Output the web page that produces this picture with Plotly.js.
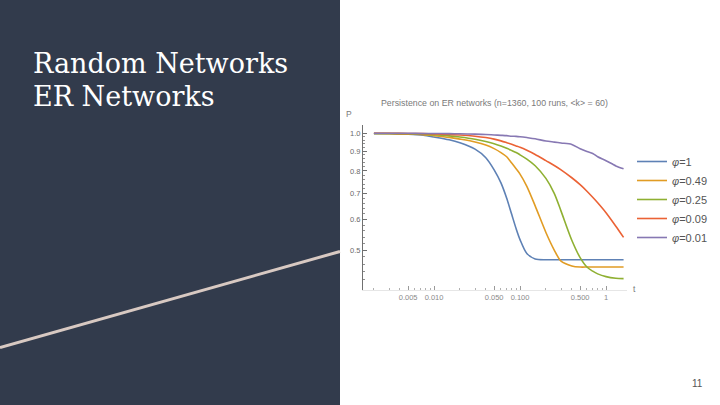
<!DOCTYPE html>
<html>
<head>
<meta charset="utf-8">
<script src="https://cdn.plot.ly/plotly-3.0.1.min.js"></script>
<style>
  html, body { margin: 0; padding: 0; background: #ffffff; }
  #chart { width: 720px; height: 405px; }
</style>
</head>
<body>
<div id="chart"></div>
<script>
// ---- data ----
const slideTitle1 = "Random Networks";
const slideTitle2 = "ER Networks";
const chartTitle = "Persistence on ER networks (n=1360, 100 runs, &lt;k&gt; = 60)";
const pageNumber = "11";

const t = [0.002, 0.003, 0.005, 0.0075, 0.01, 0.015, 0.02, 0.03, 0.04, 0.05, 0.06, 0.07, 0.08, 0.09,
           0.1, 0.12, 0.15, 0.2, 0.25, 0.3, 0.4, 0.5, 0.6, 0.7, 0.8, 1.0, 1.3, 1.6];

const phiLabels = ["1", "0.49", "0.25", "0.09", "0.01"];

const pPhi1    = [0.998, 0.997, 0.994, 0.988, 0.978, 0.962, 0.945, 0.91, 0.865, 0.805, 0.745, 0.68, 0.618, 0.568,
                  0.532, 0.49, 0.474, 0.472, 0.472, 0.472, 0.472, 0.472, 0.472, 0.472, 0.472, 0.472, 0.472, 0.472];
const pPhi049  = [0.999, 0.998, 0.996, 0.992, 0.986, 0.976, 0.966, 0.95, 0.933, 0.913, 0.892, 0.87, 0.838, 0.81,
                  0.785, 0.73, 0.65, 0.555, 0.50, 0.468, 0.455, 0.452, 0.452, 0.452, 0.452, 0.452, 0.452, 0.452];
const pPhi025  = [0.999, 0.999, 0.997, 0.995, 0.991, 0.985, 0.978, 0.965, 0.952, 0.94, 0.927, 0.915, 0.903, 0.892,
                  0.88, 0.858, 0.825, 0.765, 0.70, 0.63, 0.53, 0.478, 0.452, 0.441, 0.434, 0.427, 0.423, 0.422];
const pPhi009  = [1.0, 1.0, 0.999, 0.998, 0.996, 0.993, 0.99, 0.983, 0.975, 0.966, 0.956, 0.946, 0.937, 0.928,
                  0.92, 0.904, 0.882, 0.85, 0.826, 0.805, 0.768, 0.737, 0.709, 0.684, 0.662, 0.624, 0.576, 0.539];
const pPhi001  = [1.0, 1.0, 1.0, 0.999, 0.999, 0.998, 0.997, 0.995, 0.993, 0.99, 0.988, 0.986, 0.983, 0.982,
                  0.98, 0.975, 0.968, 0.955, 0.949, 0.944, 0.936, 0.912, 0.897, 0.887, 0.87, 0.85, 0.824, 0.81];

const xTickVals = [0.005, 0.01, 0.05, 0.1, 0.5, 1];
const xTickText = ["0.005", "0.010", "0.050", "0.100", "0.500", "1"];
const xMinorVals = [0.002, 0.003, 0.004, 0.006, 0.007, 0.008, 0.009, 0.02, 0.03, 0.04, 0.06, 0.07, 0.08, 0.09,
                    0.2, 0.3, 0.4, 0.6, 0.7, 0.8, 0.9];
const yTickVals = [0.5, 0.6, 0.7, 0.8, 0.9, 1.0];
const yTickText = ["0.5", "0.6", "0.7", "0.8", "0.9", "1.0"];
const yMinorVals = [0.42, 0.44, 0.46, 0.48, 0.52, 0.54, 0.56, 0.58, 0.62, 0.64, 0.66, 0.68,
                    0.72, 0.74, 0.76, 0.78, 0.82, 0.84, 0.86, 0.88, 0.92, 0.94, 0.96, 0.98];

const series = [pPhi1, pPhi049, pPhi025, pPhi009, pPhi001];
const colors = ["#5E81B5", "#E19C24", "#8FB032", "#EB6235", "#8778B3"];

// ---- figure ----
const W = 720, H = 405;
const px = v => v / W;
const py = v => (H - v) / H;

const traces = series.map((s, i) => ({
  x: t, y: s, type: "scatter", mode: "lines",
  name: "<i>φ</i>=" + phiLabels[i],
  line: { color: colors[i], width: 1.6, shape: "spline", smoothing: 0.8 },
  hoverinfo: "skip"
}));

const axisFont = { family: "Liberation Sans, Arial, sans-serif", size: 7.5, color: "#8a8a8a" };

const layout = {
  width: W, height: H,
  margin: { l: 0, r: 0, t: 0, b: 0, pad: 0 },
  paper_bgcolor: "#ffffff",
  plot_bgcolor: "rgba(0,0,0,0)",
  showlegend: true,
  legend: {
    x: px(632), y: py(147), xanchor: "left", yanchor: "top",
    font: { family: "Liberation Sans, Arial, sans-serif", size: 11, color: "#555555" },
    bgcolor: "rgba(0,0,0,0)", borderwidth: 0, itemwidth: 30
  },
  xaxis: {
    type: "log", domain: [px(363), px(627)], range: [-2.826, 0.244],
    showgrid: false, zeroline: false,
    showline: true, linecolor: "#e6e6e6", linewidth: 1,
    tickmode: "array", tickvals: xTickVals, ticktext: xTickText,
    ticks: "inside", ticklen: 4, tickcolor: "#9a9a9a", tickwidth: 1,
    minor: { tickmode: "array", tickvals: xMinorVals, ticks: "inside", ticklen: 2, tickcolor: "#b0b0b0", showgrid: false },
    tickfont: axisFont, fixedrange: true
  },
  yaxis: {
    type: "log", domain: [py(290), py(125)], range: [-0.4041, 0.0214],
    showgrid: false, zeroline: false,
    showline: true, linecolor: "#707070", linewidth: 1,
    tickmode: "array", tickvals: yTickVals, ticktext: yTickText,
    ticks: "inside", ticklen: 4, tickcolor: "#707070", tickwidth: 1,
    minor: { tickmode: "array", tickvals: yMinorVals, ticks: "inside", ticklen: 2, tickcolor: "#909090", showgrid: false },
    tickfont: { family: "Liberation Sans, Arial, sans-serif", size: 7.5, color: "#6a6a6a" },
    fixedrange: true
  },
  shapes: [
    { type: "rect", xref: "paper", yref: "paper", x0: 0, x1: px(340), y0: 0, y1: 1,
      fillcolor: "#323b4c", line: { width: 0 }, layer: "below" },
    { type: "line", xref: "paper", yref: "paper", x0: 0, y0: py(347.5), x1: px(340), y1: py(251.5),
      line: { color: "#d8c9c2", width: 3 }, layer: "above" }
  ],
  annotations: [
    { text: slideTitle1, xref: "paper", yref: "paper", x: px(31), y: py(63), xanchor: "left", yanchor: "middle",
      showarrow: false, font: { family: "DejaVu Serif, serif", size: 27, color: "#ffffff" } },
    { text: slideTitle2, xref: "paper", yref: "paper", x: px(31), y: py(96), xanchor: "left", yanchor: "middle",
      showarrow: false, font: { family: "DejaVu Serif, serif", size: 27, color: "#ffffff" } },
    { text: chartTitle, xref: "paper", yref: "paper", x: px(494), y: py(103), xanchor: "center", yanchor: "middle",
      showarrow: false, font: { family: "Liberation Sans, Arial, sans-serif", size: 8.8, color: "#7a7a7a" } },
    { text: "P", xref: "paper", yref: "paper", x: px(349), y: py(114), xanchor: "center", yanchor: "middle",
      showarrow: false, font: { family: "Liberation Sans, Arial, sans-serif", size: 8.5, color: "#7a7a7a" } },
    { text: "t", xref: "paper", yref: "paper", x: px(634), y: py(289), xanchor: "center", yanchor: "middle",
      showarrow: false, font: { family: "Liberation Sans, Arial, sans-serif", size: 8.5, color: "#7a7a7a" } },
    { text: pageNumber, xref: "paper", yref: "paper", x: px(697), y: py(383), xanchor: "center", yanchor: "middle",
      showarrow: false, font: { family: "Liberation Sans, Arial, sans-serif", size: 10, color: "#555555" } }
  ]
};

Plotly.newPlot("chart", traces, layout, { staticPlot: true, displayModeBar: false });
</script>
</body>
</html>
